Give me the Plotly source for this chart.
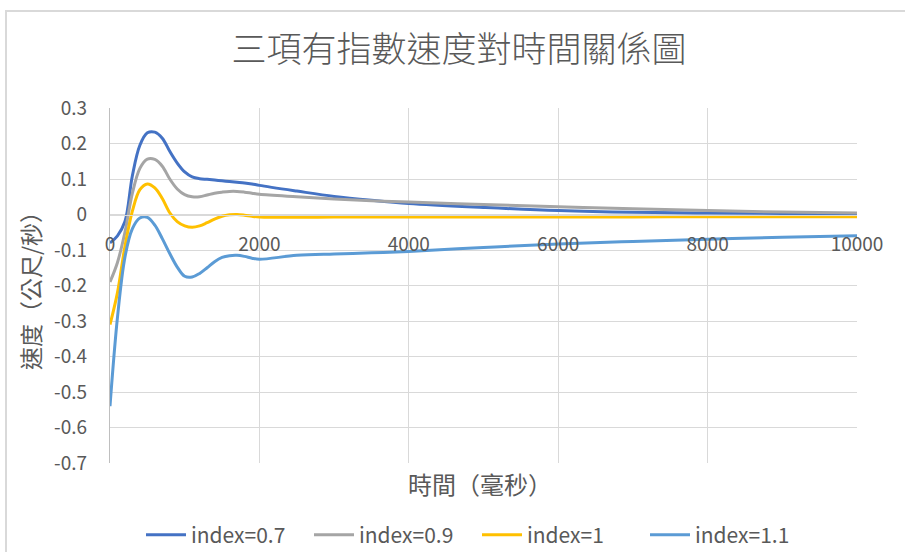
import plotly.graph_objects as go

# time samples (ms) shared by all series
time_ms = [0, 100, 200, 300, 400, 500, 600, 700, 800, 900, 1000,
           1100, 1200, 1300, 1400, 1500, 1600, 1700, 1800, 1900, 2000,
           2500, 3000, 3500, 4000, 5000, 6000, 7000, 8000, 9000, 10000]

# velocity (m/s) for each index
v_07 = [-0.08, -0.06, -0.02, 0.11, 0.195, 0.23, 0.232, 0.215, 0.178, 0.145,
        0.12, 0.106, 0.101, 0.099, 0.097, 0.095, 0.093, 0.091, 0.089, 0.086,
        0.082, 0.066, 0.051, 0.04, 0.031, 0.02, 0.011, 0.006, 0.004, 0.003,
        0.002]
v_09 = [-0.19, -0.135, -0.05, 0.06, 0.13, 0.156, 0.155, 0.136, 0.1, 0.072,
        0.056, 0.05, 0.05, 0.055, 0.06, 0.063, 0.065, 0.065, 0.063, 0.06,
        0.057, 0.05, 0.044, 0.039, 0.035, 0.028, 0.022, 0.016, 0.011, 0.007,
        0.004]
v_10 = [-0.31, -0.22, -0.09, 0.01, 0.07, 0.086, 0.075, 0.045, 0.005, -0.02,
        -0.032, -0.036, -0.032, -0.023, -0.013, -0.005, -0.001, 0.0, -0.002,
        -0.005, -0.007, -0.008, -0.007, -0.007, -0.007, -0.007, -0.007,
        -0.007, -0.006, -0.006, -0.006]
v_11 = [-0.54, -0.29, -0.12, -0.04, -0.01, -0.008, -0.03, -0.068, -0.11,
        -0.148, -0.174, -0.176, -0.166, -0.15, -0.133, -0.121, -0.116,
        -0.115, -0.118, -0.123, -0.126, -0.115, -0.111, -0.108, -0.104,
        -0.093, -0.083, -0.076, -0.07, -0.064, -0.06]

series_names = ["index=0.7", "index=0.9", "index=1", "index=1.1"]
series_values = [v_07, v_09, v_10, v_11]
series_colors = ["#4472C4", "#A5A5A5", "#FFC000", "#5B9BD5"]

x_ticks = [0, 2000, 4000, 6000, 8000, 10000]
y_ticks = [0.3, 0.2, 0.1, 0, -0.1, -0.2, -0.3, -0.4, -0.5, -0.6, -0.7]

title_text = "三項有指數速度對時間關係圖"
x_title = "時間（毫秒）"
y_title = "速度（公尺/秒）"

FONT = "Noto Sans CJK TC"
TXT = "#595959"
GRID = "#D9D9D9"

fig = go.Figure()
for name, vals, col in zip(series_names, series_values, series_colors):
    fig.add_trace(go.Scatter(
        x=time_ms, y=vals, name=name, mode="lines",
        line=dict(color=col, width=3, shape="spline", smoothing=1.0),
    ))

W, H = 905, 552
ML, MR, MT, MB = 110, 48, 108, 89
pw, ph = W - ML - MR, H - MT - MB


def px_to_paper(px, py):
    return (px - ML) / pw, (H - MB - py) / ph


# outer chart frame (only its top and left edges fall inside the page)
x0, y1 = px_to_paper(6, 11)
x1, y0 = px_to_paper(W + 10, H + 10)
fig.add_shape(type="rect", xref="paper", yref="paper", x0=x0, y0=y0,
              x1=x1, y1=y1, line=dict(color="#D9D9D9", width=2),
              layer="below")

ymin, ymax = -0.7, 0.3
zero_pos = (0 - ymin) / (ymax - ymin)

fig.update_layout(
    width=W, height=H,
    margin=dict(l=ML, r=MR, t=MT, b=MB, autoexpand=False),
    paper_bgcolor="white", plot_bgcolor="white",
    font=dict(family=FONT, color=TXT, size=19),
    title=dict(text=title_text, xref="container", yref="container",
               x=459 / W, y=1 - 50 / H, xanchor="center", yanchor="middle",
               font=dict(family=FONT, size=35, color=TXT, weight=300)),
    xaxis=dict(range=[0, 10000], tickvals=x_ticks,
               ticktext=[str(v) for v in x_ticks],
               anchor="free", position=zero_pos,
               showgrid=True, gridcolor=GRID, gridwidth=1.3,
               showline=True, linecolor=GRID, linewidth=1.3,
               zeroline=False, ticks="", ticklabelstandoff=13,
               tickfont=dict(family=FONT, size=19, color=TXT)),
    yaxis=dict(range=[ymin, ymax], tickvals=y_ticks,
               ticktext=[f"{v:g}" for v in y_ticks],
               showgrid=True, gridcolor=GRID, gridwidth=1.3,
               showline=True, linecolor="#BFBFBF", linewidth=1.3,
               zeroline=True, zerolinecolor=GRID, zerolinewidth=1.3,
               ticks="", ticklabelstandoff=18,
               tickfont=dict(family=FONT, size=19, color=TXT)),
    legend=dict(orientation="h", x=(477 - ML) / pw, y=(463 - 535) / ph,
                xanchor="center", yanchor="middle",
                font=dict(family=FONT, size=21, color=TXT),
                itemwidth=40, entrywidth=113, entrywidthmode="pixels",
                traceorder="normal", bgcolor="rgba(0,0,0,0)"),
    showlegend=True,
)

ax, ay = px_to_paper(480, 483)
fig.add_annotation(text=x_title, xref="paper", yref="paper", x=ax, y=ay,
                   showarrow=False, xanchor="center", yanchor="middle",
                   font=dict(family=FONT, size=24, color=TXT))
bx, by = px_to_paper(30, 285)
fig.add_annotation(text=y_title, xref="paper", yref="paper", x=bx, y=by,
                   showarrow=False, textangle=-90, xanchor="center",
                   yanchor="middle", font=dict(family=FONT, size=23, color=TXT))

fig.write_html("out.html")
